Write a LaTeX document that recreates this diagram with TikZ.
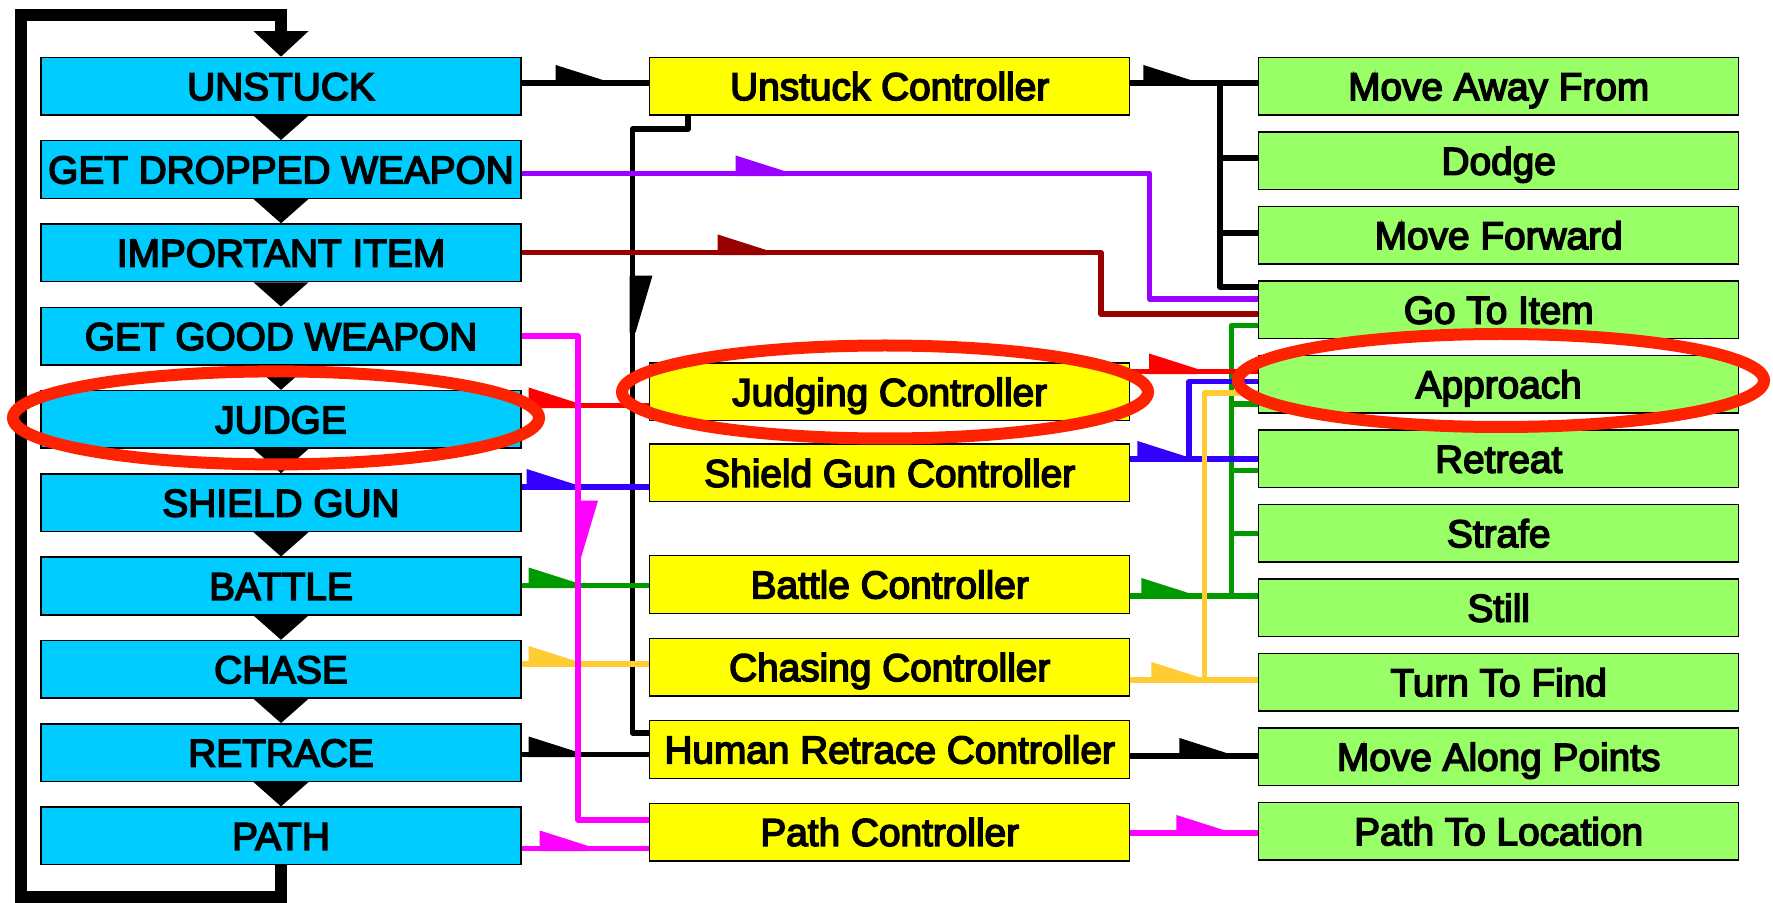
\documentclass[tikz,border=0pt]{standalone}
\usepackage{fontspec}
\setmainfont{Liberation Sans}
\newfontfamily\boxfont{Liberation Sans}[FakeBold=4]
\usetikzlibrary{calc,decorations.markings}

\definecolor{boxblue}{HTML}{00CCFF}
\definecolor{boxyellow}{HTML}{FFFF00}
\definecolor{boxgreen}{HTML}{99FF66}
\definecolor{lnpurple}{HTML}{9900FF}
\definecolor{lndarkred}{HTML}{990000}
\definecolor{lnmagenta}{HTML}{FF00FF}
\definecolor{lnred}{HTML}{FF0000}
\definecolor{lnblue}{HTML}{3300FF}
\definecolor{lngreen}{HTML}{009900}
\definecolor{lnorange}{HTML}{FFCC33}
\definecolor{hilite}{HTML}{FF2200}

\tikzset{
  box/.style={draw=black, line width=0.7pt, minimum width=240pt, minimum height=28.8pt,
              inner sep=0pt, text height=13.9pt, text depth=0pt,
              font={\boxfont\fontsize{19.4}{22}\selectfont}},
  statebox/.style={box, fill=boxblue},
  ctrlbox/.style={box, fill=boxyellow},
  actbox/.style={box, fill=boxgreen},
  wire/.style={line width=2.7pt, line join=round, color=#1},
  % half-arrow flag sitting on the left side of the direction of travel
  flagat/.style={postaction={decorate,decoration={markings,
      mark=at position #1 with {\fill (-24pt,-1.35pt) -- (-24pt,9pt) -- (0pt,1.35pt) -- (0pt,-1.35pt) -- cycle;}}}},
  longflagat/.style={postaction={decorate,decoration={markings,
      mark=at position #1 with {\fill (-28.5pt,-1.5pt) -- (-28.5pt,10pt) -- (0pt,1.5pt) -- (0pt,-1.5pt) -- cycle;}}}},
  loopline/.style={line width=6pt, line join=miter},
  hl/.style={draw=hilite, line width=6pt},
}

\begin{document}
\begin{tikzpicture}[x=0.5pt, y=-0.5pt]
\useasboundingbox (0,0) rectangle (1773,903);

% state column
\foreach \t [count=\i from 0] in {UNSTUCK, GET DROPPED WEAPON, IMPORTANT ITEM, GET GOOD WEAPON,
    JUDGE, SHIELD GUN, BATTLE, CHASE, RETRACE, PATH}
  \node[statebox] (b\i) at (281, {86.2+83.3*\i}) {\t};

% controller column
\node[ctrlbox] (y0) at (889.75, 86.2)  {Unstuck Controller};
\node[ctrlbox] (y1) at (889.75, 392)   {Judging Controller};
\node[ctrlbox] (y2) at (889.75, 473)   {Shield Gun Controller};
\node[ctrlbox] (y3) at (889.75, 584.5) {Battle Controller};
\node[ctrlbox] (y4) at (889.75, 667.2) {Chasing Controller};
\node[ctrlbox] (y5) at (889.75, 749.5) {Human Retrace Controller};
\node[ctrlbox] (y6) at (889.75, 832)   {Path Controller};

% action column
\foreach \t [count=\j from 0] in {Move Away From, Dodge, Move Forward, Go To Item, Approach,
    Retreat, Strafe, Still, Turn To Find, Move Along Points, Path To Location}
  \node[actbox] (g\j) at (1498.7, {86.3+74.5*\j}) {\t};

% priority chain between states
\foreach \i [count=\n from 1] in {0,...,8}
  \fill ($(b\i.south)+(-27.5,0)$) -- ($(b\i.south)+(27.5,0)$) -- (b\n.north) -- cycle;

% loop back from the last state to the first
\draw[loopline] (b9.south) -- (b9.south |- 0,897) -- (20.5,897) -- (20.5,15)
  -- (b0.north |- 0,15) -- ($(b0.north)+(0,-24)$);
\fill ($(b0.north)+(-27.5,-25.6)$) -- ($(b0.north)+(27.5,-25.6)$) -- (b0.north) -- cycle;

% black wires
\draw[wire=black, longflagat=136.2pt] (y0.south -| 688,0) -- ++(0,13.5) -| (632.5,733)
  -- (y5.west |- 0,733);
\draw[wire=black, flagat=41pt] (b0.east |- 0,83) -- (y0.west |- 0,83);
\draw[wire=black, flagat=30.5pt] (y0.east |- 0,83) -- (g0.west |- 0,83);
\coordinate (ub) at (1220,83);
\draw[wire=black] (ub) |- (g3.west |- 0,287);
\draw[wire=black] (ub |- 0,158) -- (g1.west |- 0,158);
\draw[wire=black] (ub |- 0,233) -- (g2.west |- 0,233);
\draw[wire=black, flagat=27.5pt] (b8.east |- 0,754.5) -- (y5.west |- 0,754.5);
\draw[wire=black, flagat=48.5pt] (y5.east |- 0,756) -- (g9.west |- 0,756);

% green wires
\draw[wire=lngreen, flagat=27.5pt] (b6.east |- 0,585.5) -- (y3.west |- 0,585.5);
\draw[wire=lngreen, flagat=29.5pt] (y3.east |- 0,596) -- (g7.west |- 0,596);
\coordinate (gb) at (1231.5,596);
\draw[wire=lngreen] (gb) |- (g3.west |- 0,325.5);
\draw[wire=lngreen] (gb |- 0,404) -- (g4.west |- 0,404);
\draw[wire=lngreen] (gb |- 0,470.5) -- (g5.west |- 0,470.5);
\draw[wire=lngreen] (gb |- 0,533.5) -- (g6.west |- 0,533.5);

% blue wires
\draw[wire=lnblue, flagat=26.5pt] (b5.east |- 0,487) -- (y2.west |- 0,487);
\draw[wire=lnblue, flagat=27.5pt] (y2.east |- 0,459) -- (g5.west |- 0,459);
\coordinate (bb) at (1189,459);
\draw[wire=lnblue] (bb) |- (g4.west |- 0,381.5);

% red wires
\draw[wire=lnred, flagat=27.5pt] (b4.east |- 0,405.5) -- (y1.west |- 0,405.5);
\draw[wire=lnred, flagat=33.3pt] (y1.east |- 0,371.5) -- (g4.west |- 0,371.5);

% purple and dark red wires
\draw[wire=lnpurple, flagat=131pt] (b1.east |- 0,173.5) -| (1149.5,299) -- (g3.west |- 0,299);
\draw[wire=lndarkred, flagat=122pt] (b2.east |- 0,252.5) -| (1101,314) -- (g3.west |- 0,314);

% orange wires
\draw[wire=lnorange, flagat=27.5pt] (b7.east |- 0,664) -- (y4.west |- 0,664);
\draw[wire=lnorange, flagat=34.5pt] (y4.east |- 0,680) -- (g8.west |- 0,680);
\coordinate (ob) at (1204.5,680);
\draw[wire=lnorange] (ob) |- (g4.west |- 0,393);

% magenta wires
\draw[wire=lnmagenta, longflagat=139pt] (b3.east |- 0,336) -| (578,820) -- (y6.west |- 0,820);
\draw[wire=lnmagenta, flagat=33pt] (b9.east |- 0,848.5) -- (y6.west |- 0,848.5);
\draw[wire=lnmagenta, flagat=47pt] (y6.east |- 0,833) -- (g10.west |- 0,833);

% highlight rings
\draw[hl] ($(b4.center)+(-5,-1.5)$) ellipse [x radius=131.5pt, y radius=23.25pt];
\draw[hl] ($(y1.center)+(-4.75,0)$) ellipse [x radius=131.5pt, y radius=23.25pt];
\draw[hl] ($(g4.center)+(2.3,-3.8)$) ellipse [x radius=131.5pt, y radius=23.25pt];
\end{tikzpicture}
\end{document}
